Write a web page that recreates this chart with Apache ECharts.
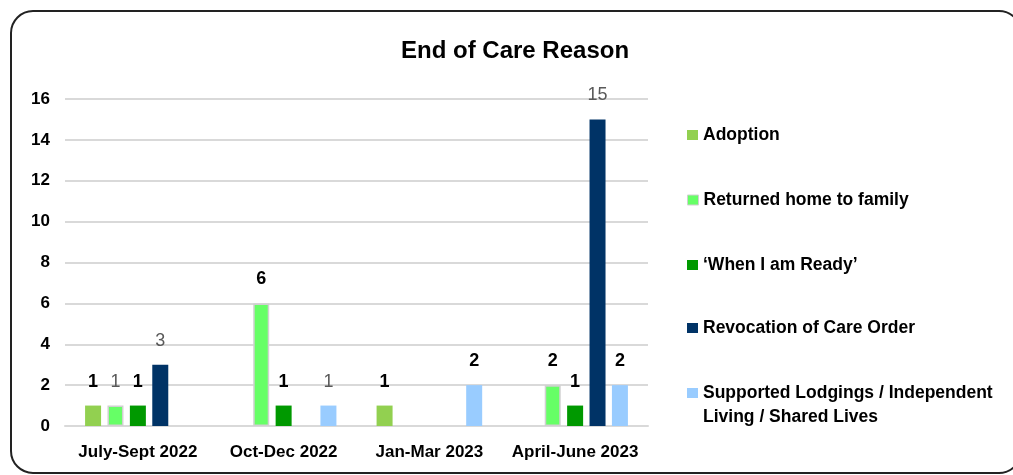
<!DOCTYPE html>
<html><head><meta charset="utf-8">
<script src="https://cdn.jsdelivr.net/npm/echarts@6/dist/echarts.min.js"></script>
<style>html,body{margin:0;padding:0;background:#fff}#c{width:1013px;height:475px}</style>
</head><body><div id="c"></div>
<script>
const categories = ['July-Sept 2022', 'Oct-Dec 2022', 'Jan-Mar 2023', 'April-June 2023'];
const seriesNames = ['Adoption', 'Returned home to family', '\u2018When I am Ready\u2019', 'Revocation of Care Order', 'Supported Lodgings / Independent Living / Shared Lives'];
const adoption = [1, null, 1, null];
const returnedHome = [1, 6, null, 2];
const whenReady = [1, 1, null, 1];
const revocation = [3, null, null, 15];
const supported = [null, 1, 2, 2];
const yTicks = [0, 2, 4, 6, 8, 10, 12, 14, 16];

const colors = ['#92d050', '#66ff66', '#009900', '#003366', '#99ccff'];
const allData = [adoption, returnedHome, whenReady, revocation, supported];
// which labels are drawn in plain grey (series index -> category indices)
const plainLabel = {1: [0], 3: [0, 3], 4: [1]};

const FONT = '"Liberation Sans", Arial, sans-serif';
const chart = echarts.init(document.getElementById('c'));

const series = allData.map((arr, si) => ({
  name: seriesNames[si],
  type: 'bar',
  barWidth: 16,
  barGap: '40%',
  itemStyle: si === 1 ? {color: colors[si], borderColor: '#d0d0d0', borderWidth: 1.5} : {color: colors[si]},
  label: {show: true, position: 'top', distance: 15, fontFamily: FONT, fontSize: 18, fontWeight: 'bold', color: '#000'},
  data: arr.map((v, ci) => {
    if (v == null) return null;
    const plain = (plainLabel[si] || []).includes(ci);
    return plain ? {value: v, label: {fontWeight: 'normal', color: '#595959', fontSize: 18}} : v;
  })
}));

const legendY = [134, 199, 264, 327, 392];
const legends = seriesNames.map((n, i) => ({
  data: [i === 1 ? {name: n, itemStyle: {borderColor: '#d0d0d0', borderWidth: 1}} : n],
  left: 687,
  top: legendY[i] - 8,
  padding: 0,
  itemWidth: 11,
  itemHeight: 10,
  itemGap: 0,
  textStyle: {fontFamily: FONT, fontSize: 17.5, fontWeight: 'bold', color: '#000'},
  icon: 'rect',
  selectedMode: false,
  formatter: (name) => name.startsWith('Supported') ? 'Supported Lodgings / Independent' : name
}));

chart.setOption({
  animation: false,
  color: colors,
  title: {text: 'End of Care Reason', left: 396, top: 34,
    textStyle: {fontFamily: FONT, fontSize: 24, fontWeight: 'bold', color: '#000'}},
  graphic: [
    {type: 'rect', shape: {x: 11, y: 11, width: 1010, height: 462, r: 22}, silent: true,
      style: {fill: 'none', stroke: '#222', lineWidth: 2}},
    {type: 'text', left: 703, top: 408, silent: true,
      style: {text: 'Living / Shared Lives', fontFamily: FONT, fontSize: 17.5, fontWeight: 'bold', fill: '#000'}}
  ],
  legend: legends,
  grid: {left: 65, right: 365, top: 99, bottom: 49},
  xAxis: {type: 'category', data: categories,
    axisLine: {lineStyle: {color: '#d9d9d9', width: 2}}, axisTick: {show: false},
    axisLabel: {interval: 0, fontFamily: FONT, fontSize: 17, fontWeight: 'bold', color: '#000', margin: 18}},
  yAxis: {type: 'value', min: 0, max: 16, interval: 2,
    axisLine: {show: false}, axisTick: {show: false},
    axisLabel: {fontFamily: FONT, fontSize: 17, fontWeight: 'bold', color: '#000', margin: 15,
      formatter: (v) => yTicks.includes(v) ? String(v) : ''},
    splitLine: {lineStyle: {color: '#d9d9d9', width: 2}}},
  series: series
});
</script>
</body></html>
